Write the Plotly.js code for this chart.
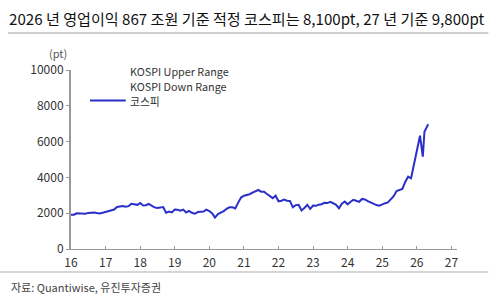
<!DOCTYPE html>
<html>
<head>
<meta charset="utf-8">
<script src="https://cdn.plot.ly/plotly-3.0.1.min.js"></script>
<style>html,body{margin:0;padding:0;background:#fff;}#chart{width:500px;height:300px;}</style>
</head>
<body>
<div id="chart"></div>
<script>
// Monthly KOSPI (pt)
const dates = [
"2016-01-01","2016-02-01","2016-03-01","2016-04-01","2016-05-01","2016-06-01","2016-07-01","2016-08-01","2016-09-01","2016-10-01","2016-11-01","2016-12-01",
"2017-01-01","2017-02-01","2017-03-01","2017-04-01","2017-05-01","2017-06-01","2017-07-01","2017-08-01","2017-09-01","2017-10-01","2017-11-01","2017-12-01",
"2018-01-01","2018-02-01","2018-03-01","2018-04-01","2018-05-01","2018-06-01","2018-07-01","2018-08-01","2018-09-01","2018-10-01","2018-11-01","2018-12-01",
"2019-01-01","2019-02-01","2019-03-01","2019-04-01","2019-05-01","2019-06-01","2019-07-01","2019-08-01","2019-09-01","2019-10-01","2019-11-01","2019-12-01",
"2020-01-01","2020-02-01","2020-03-01","2020-04-01","2020-05-01","2020-06-01","2020-07-01","2020-08-01","2020-09-01","2020-10-01","2020-11-01","2020-12-01",
"2021-01-01","2021-02-01","2021-03-01","2021-04-01","2021-05-01","2021-06-01","2021-07-01","2021-08-01","2021-09-01","2021-10-01","2021-11-01","2021-12-01",
"2022-01-01","2022-02-01","2022-03-01","2022-04-01","2022-05-01","2022-06-01","2022-07-01","2022-08-01","2022-09-01","2022-10-01","2022-11-01","2022-12-01",
"2023-01-01","2023-02-01","2023-03-01","2023-04-01","2023-05-01","2023-06-01","2023-07-01","2023-08-01","2023-09-01","2023-10-01","2023-11-01","2023-12-01",
"2024-01-01","2024-02-01","2024-03-01","2024-04-01","2024-05-01","2024-06-01","2024-07-01","2024-08-01","2024-09-01","2024-10-01","2024-11-01","2024-12-01",
"2025-01-01","2025-02-01","2025-03-01","2025-04-01","2025-05-01","2025-06-01","2025-07-01","2025-08-01","2025-09-01","2025-10-01","2025-11-01","2025-12-01",
"2026-01-15","2026-02-03","2026-03-05","2026-03-22","2026-05-01"
];
const kospi = [
1912,1916,1996,1994,1983,1970,2016,2035,2044,2008,1983,2026,
2068,2092,2160,2205,2347,2392,2403,2363,2394,2523,2476,2467,
2566,2427,2445,2515,2423,2326,2295,2323,2343,2030,2097,2041,
2204,2195,2141,2204,2042,2130,2025,1968,2063,2083,2088,2198,
2119,1987,1755,1948,2030,2108,2249,2326,2328,2267,2591,2873,
2976,3013,3061,3148,3204,3297,3202,3199,3069,2971,2839,2977,
2663,2699,2757,2695,2685,2332,2452,2472,2155,2293,2472,2236,
2425,2412,2477,2501,2577,2564,2632,2556,2465,2277,2535,2655,
2497,2642,2747,2692,2636,2798,2770,2674,2593,2556,2456,2420,
2500,2560,2600,2760,2950,3240,3300,3360,3760,4040,3950,4690,
5715,6330,5156,6553,6966
];
// Series names for the legend (the range series have no visible values)
const seriesNames = ["KOSPI Upper Range", "KOSPI Down Range", "코스피"];
const yTicks = [0,2000,4000,6000,8000,10000];
const yTickText = ["0","2000","4000","6000","8000","10000"];
const xTickVals = ["2016-01-01","2017-01-01","2018-01-01","2019-01-01","2020-01-01","2021-01-01","2022-01-01","2023-01-01","2024-01-01","2025-01-01","2026-01-01","2027-01-01"];
const xTickText = ["16","17","18","19","20","21","22","23","24","25","26","27"];

const FONT = "'Noto Sans CJK KR', 'Noto Sans', sans-serif";
const BLUE = "#2a2fc8";

const traces = [
  {x: dates, y: kospi, name: seriesNames[2], type: "scatter", mode: "lines",
   line: {color: BLUE, width: 2}, showlegend: false}
];

const L = 71, R = 456.7, T = 70, B = 249;
const pw = R - L, ph = B - T;
const px = v => (v - L) / pw;
const py = v => (B - v) / ph;

const legendRows = [71, 85.5, 100.6];
const legendAnn = seriesNames.map((n, i) => ({
  text: n, xref: "paper", yref: "paper", x: px(129), y: py(legendRows[i]),
  xanchor: "left", yanchor: "middle", showarrow: false, borderpad: 0,
  font: {family: FONT, size: 10.8, color: "#333"}
}));

const layout = {
  width: 500, height: 300,
  margin: {l: L, r: 500 - R, t: T, b: 300 - B, pad: 0},
  paper_bgcolor: "#fff", plot_bgcolor: "#fff",
  font: {family: FONT, size: 12, color: "#333"},
  title: {
    text: "2026 년 영업이익 867 조원 기준 적정 코스피는 8,100pt, 27 년 기준 9,800pt",
    font: {family: FONT, size: 15.1, color: "#111", weight: 400},
    xref: "container", yref: "container", x: 9/500, xanchor: "left", y: 1 - 19.5/300, yanchor: "middle"
  },
  xaxis: {
    type: "date", range: ["2016-01-01", "2027-03-01"],
    tickmode: "array", tickvals: xTickVals, ticktext: xTickText,
    ticks: "inside", ticklen: 3, tickcolor: "#999", tickwidth: 1,
    showline: true, linecolor: "#999", linewidth: 1,
    showgrid: false, zeroline: false, ticklabelstandoff: 3,
    tickfont: {family: FONT, size: 12, color: "#333"}
  },
  yaxis: {
    range: [0, 10000], tickmode: "array", tickvals: yTicks, ticktext: yTickText,
    ticks: "outside", ticklen: 3, tickcolor: "#999", tickwidth: 1,
    showline: true, linecolor: "#999", linewidth: 2,
    showgrid: false, zeroline: false,
    tickfont: {family: FONT, size: 12, color: "#333"}
  },
  showlegend: false,
  shapes: [
    {type: "line", xref: "paper", yref: "paper", x0: px(8), x1: px(488), y0: py(33), y1: py(33),
     line: {color: "#cfcfcf", width: 2}},
    {type: "line", xref: "paper", yref: "paper", x0: px(0), x1: px(488), y0: py(272), y1: py(272),
     line: {color: "#d5d5d5", width: 2}},
    // legend swatch for 코스피
    {type: "line", xref: "paper", yref: "paper", x0: px(90), x1: px(125.7), y0: py(100.6), y1: py(100.6),
     line: {color: BLUE, width: 2}}
  ],
  annotations: [
    {text: "(pt)", xref: "paper", yref: "paper", x: px(47), y: py(53), xanchor: "left", yanchor: "middle",
     showarrow: false, font: {family: FONT, size: 11, color: "#555"}},
    {text: "자료: Quantiwise, 유진투자증권", xref: "paper", yref: "paper", x: px(9), y: py(287),
     xanchor: "left", yanchor: "middle", showarrow: false,
     font: {family: FONT, size: 11, color: "#444"}}
  ].concat(legendAnn)
};

Plotly.newPlot("chart", traces, layout, {staticPlot: true, displayModeBar: false});
</script>
</body>
</html>
